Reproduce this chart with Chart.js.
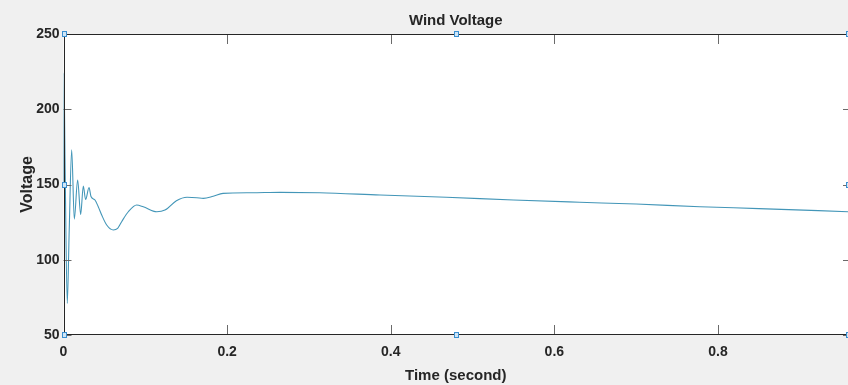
<!DOCTYPE html>
<html>
<head>
<meta charset="utf-8">
<title>Wind Voltage</title>
<script src="https://cdn.jsdelivr.net/npm/chart.js@4.4.1/dist/chart.umd.min.js"></script>
<style>
  html, body { margin: 0; padding: 0; background: #f0f0f0; }
  #wrap { width: 848px; height: 385px; position: relative; }
</style>
</head>
<body>
<div id="wrap"><canvas id="windChart"></canvas></div>
<script>
// Data
const timeData = [
  0, 0.0005, 0.002, 0.0046, 0.007, 0.010, 0.0132, 0.0173, 0.021, 0.0242,
  0.027, 0.0312, 0.0336, 0.0385, 0.0425, 0.0467, 0.0528, 0.0609, 0.0662, 0.0711,
  0.0792, 0.0894, 0.0975, 0.114, 0.124, 0.138, 0.151, 0.163, 0.171, 0.183,
  0.195, 0.23, 0.265, 0.313, 0.387, 0.468, 0.55, 0.631, 0.70, 0.778,
  0.85, 0.959,
];
const voltageData = [
  150, 224, 160, 71, 120, 173, 127, 153, 130, 149,
  140, 148, 142, 139.7, 135.2, 129.7, 123.1, 119.8, 120.9, 125.3,
  131.9, 136.4, 135.2, 131.9, 133, 139.2, 141.5, 141.2, 140.8, 142.2,
  144.1, 144.5, 144.8, 144.5, 143, 141.5, 139.7, 138.2, 137, 135.2,
  134, 131.9,
];
const xTicks = [0, 0.2, 0.4, 0.6, 0.8];
const yTicks = [50, 100, 150, 200, 250];
const xMax = 0.959;

const sans = '"Liberation Sans", Arial, Helvetica, sans-serif';

// white axes box, inward ticks and the little selection handles
const axesBox = {
  id: 'axesBox',
  beforeDraw(chart) {
    const { ctx, chartArea: a } = chart;
    ctx.save();
    ctx.fillStyle = '#ffffff';
    ctx.fillRect(a.left, a.top, a.right - a.left, a.bottom - a.top);
    ctx.restore();
  },
  afterDatasetsDraw(chart) {
    const { ctx, chartArea: a, scales } = chart;
    const x = scales.x;
    const y = scales.y;
    ctx.save();
    ctx.lineWidth = 1;
    ctx.strokeStyle = '#6a6a6a';
    ctx.beginPath();
    xTicks.forEach((v) => {
      const px = Math.round(x.getPixelForValue(v)) + 0.5;
      ctx.moveTo(px, a.top);
      ctx.lineTo(px, a.top + 10);
      ctx.moveTo(px, a.bottom);
      ctx.lineTo(px, a.bottom - 10);
    });
    yTicks.forEach((v) => {
      const py = Math.round(y.getPixelForValue(v)) + 0.5;
      ctx.moveTo(a.left, py);
      ctx.lineTo(a.left + 8, py);
      ctx.moveTo(a.right, py);
      ctx.lineTo(a.right - 5, py);
    });
    ctx.stroke();

    ctx.strokeStyle = '#262626';
    ctx.beginPath();
    const l = Math.round(a.left) + 0.5;
    const t = Math.round(a.top) + 0.5;
    const b = Math.round(a.bottom) - 0.5;
    ctx.moveTo(a.right, t);
    ctx.lineTo(l, t);
    ctx.lineTo(l, b);
    ctx.lineTo(a.right, b);
    ctx.stroke();

    const handles = [
      [0, 250], [xMax / 2, 250], [xMax, 250],
      [0, 150], [xMax, 150],
      [0, 50], [xMax / 2, 50], [xMax, 50],
    ];
    ctx.fillStyle = '#cfe6f7';
    ctx.strokeStyle = '#3b8fd0';
    handles.forEach(([hx, hy]) => {
      const px = Math.round(x.getPixelForValue(hx));
      const py = Math.round(y.getPixelForValue(hy));
      ctx.fillRect(px - 2, py - 3, 5, 6);
      ctx.strokeRect(px - 2 + 0.5, py - 3 + 0.5, 4, 5);
    });
    ctx.restore();
  },
};

const ctx = document.getElementById('windChart');
new Chart(ctx, {
  type: 'line',
  data: {
    datasets: [
      {
        label: 'Wind Voltage',
        data: timeData.map((t, i) => ({ x: t, y: voltageData[i] })),
        borderColor: '#4396b8',
        borderWidth: 1.1,
        pointRadius: 0,
        cubicInterpolationMode: 'monotone',
        fill: false,
      },
    ],
  },
  options: {
    responsive: true,
    maintainAspectRatio: false,
    animation: false,
    layout: { padding: 0 },
    plugins: {
      legend: { display: false },
      tooltip: { enabled: false },
      title: { display: false },
    },
    scales: {
      x: {
        type: 'linear',
        position: 'bottom',
        min: 0,
        max: xMax,
        afterBuildTicks: (s) => {
          s.ticks = xTicks.map((v) => ({ value: v }));
        },
        afterFit: (s) => {
          s.height = 50;
        },
        ticks: {
          padding: 9,
          color: '#262626',
          maxRotation: 0,
          font: { family: sans, size: 14, weight: 'bold' },
          callback: (v) => String(v),
        },
        grid: { display: false, drawTicks: false },
        border: { display: false },
        title: {
          display: true,
          text: 'Time (second)',
          color: '#262626',
          font: { family: sans, size: 15, weight: 'bold' },
          padding: { top: 3, bottom: 0 },
        },
      },
      x2: {
        type: 'linear',
        position: 'top',
        min: 0,
        max: xMax,
        afterFit: (s) => {
          s.height = 34;
        },
        ticks: { display: false },
        grid: { display: false, drawTicks: false },
        border: { display: false },
        title: {
          display: true,
          text: 'Wind Voltage',
          color: '#262626',
          font: { family: sans, size: 15, weight: 'bold' },
          padding: { top: 11.5, bottom: 0 },
        },
      },
      y: {
        type: 'linear',
        min: 50,
        max: 250,
        afterBuildTicks: (s) => {
          s.ticks = yTicks.map((v) => ({ value: v }));
        },
        afterFit: (s) => {
          s.width = 63.5;
        },
        ticks: {
          padding: 4,
          color: '#262626',
          font: { family: sans, size: 14, weight: 'bold' },
        },
        grid: { display: false, drawTicks: false },
        border: { display: false },
        title: {
          display: true,
          text: 'Voltage',
          color: '#262626',
          font: { family: sans, size: 16, weight: 'bold' },
          padding: { top: 18, bottom: 0 },
        },
      },
    },
  },
  plugins: [axesBox],
});
</script>
</body>
</html>
